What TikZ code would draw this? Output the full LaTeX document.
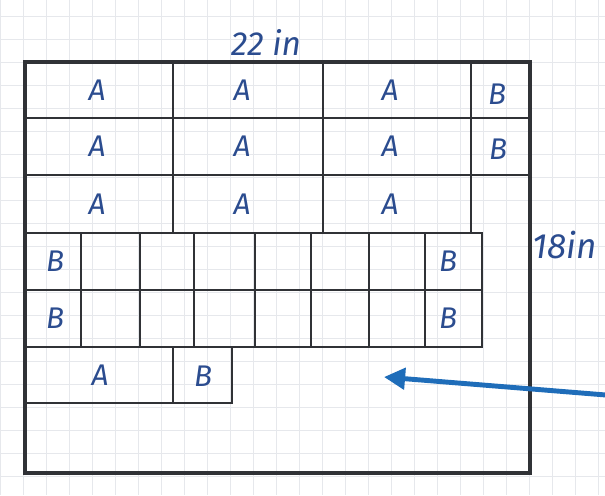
\documentclass[tikz,border=0pt]{standalone}
\usepackage{fontspec}
\setsansfont{Fira Sans}
\usetikzlibrary{arrows.meta}
\definecolor{inkblue}{HTML}{2B4C8F}
\definecolor{penline}{HTML}{303236}
\definecolor{arrowblue}{HTML}{1F6DB9}
\definecolor{paper}{HTML}{E6E8EC}

\begin{document}
\begin{tikzpicture}[
  x=0.02cm, y=-0.02cm,
  gridline/.style={paper, line width=0.45pt},
  frame/.style={penline, line width=1.8pt},
  cellline/.style={penline, line width=1.1pt},
  lbl/.style={font=\sffamily\itshape\fontsize{17}{20}\selectfont, text=inkblue},
  dimlabel/.style={font=\sffamily\itshape\fontsize{#1}{22}\selectfont, text=inkblue},
  pointer/.style={-{Triangle[length=12pt, width=12pt]}, arrowblue, line width=2.8pt},
]

\useasboundingbox (0,0) rectangle (605,495);

% Grid paper
\foreach \gx in {0,23,...,598} \draw[gridline] (\gx,0) -- (\gx,495);
\foreach \gy in {16,39,...,495} \draw[gridline] (0,\gy) -- (605,\gy);

% Dimensions
\node[dimlabel=19] (width) at (266,42) {22 in};
\node[dimlabel=20] (height) at (565,245) {18in};

% =============================================
% Top three rows: A A A B
% =============================================
\foreach \ya/\yb/\r in {62/118/1, 118/175/2, 175/233/3}{
  \draw[cellline] (25,\ya) rectangle (173,\yb);
  \draw[cellline] (173,\ya) rectangle (323,\yb);
  \draw[cellline] (323,\ya) rectangle (471,\yb);
  \node[lbl] (a\r c1) at (97,{(\ya+\yb)/2}) {A};
  \node[lbl] (a\r c2) at (242,{(\ya+\yb)/2}) {A};
  \node[lbl] (a\r c3) at (390,{(\ya+\yb)/2}) {A};
}
\draw[cellline] (471,62) rectangle (530,118);
\draw[cellline] (471,118) rectangle (530,175);
\node[lbl] (b1) at (497,94) {B};
\node[lbl] (b2) at (498,149) {B};

% =============================================
% Two rows of narrow cells: B ... B
% =============================================
\foreach \ya/\yb/\r in {233/290/4, 290/347/5}{
  \foreach \xa/\xb in {25/81, 81/140, 140/194, 194/255, 255/311, 311/369, 369/425, 425/482}
    \draw[cellline] (\xa,\ya) rectangle (\xb,\yb);
  \node[lbl] (b\r l) at (55,{(\ya+\yb)/2}) {B};
  \node[lbl] (b\r r) at (448,{(\ya+\yb)/2}) {B};
}

% =============================================
% Last row: A B
% =============================================
\draw[cellline] (25,347) rectangle (173,403);
\draw[cellline] (173,347) rectangle (232,403);
\node[lbl] (a6) at (100,375) {A};
\node[lbl] (b6) at (203,376) {B};

% Outer frame
\draw[frame] (25,62) rectangle (530,473);

% Pointer into the empty area
\coordinate (tail) at (606,395);
\coordinate (tip) at (384,377);
\draw[pointer] (tail) -- (tip);

\end{tikzpicture}
\end{document}
